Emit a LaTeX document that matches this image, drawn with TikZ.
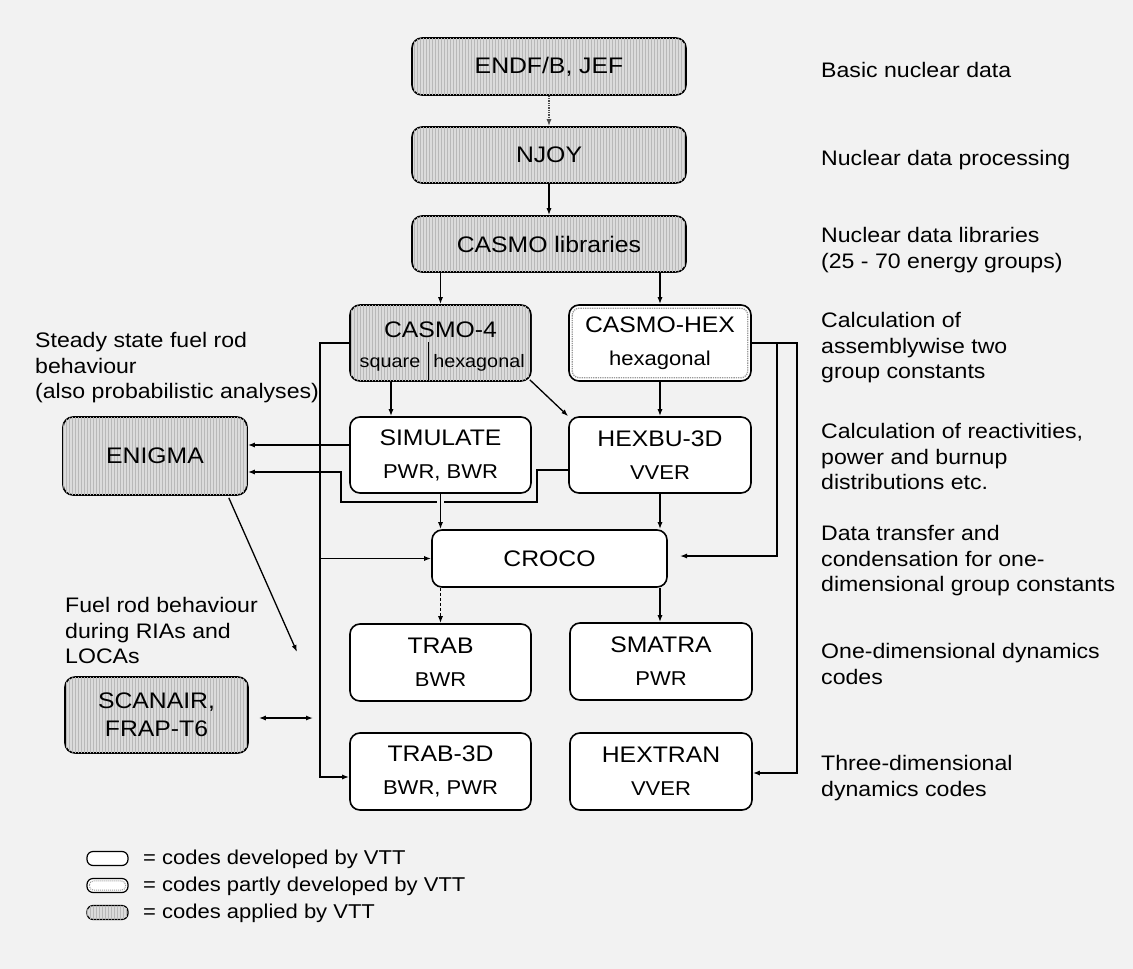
\documentclass[tikz,border=0pt]{standalone}
\usepackage{fontspec}
\setmainfont{Liberation Sans}[FakeStretch=1.1]
\usetikzlibrary{arrows.meta,patterns}
\begin{document}
\begin{tikzpicture}[x=1pt,y=-1pt,
  box/.style={draw=black, line width=1.6pt, rounded corners=10pt, align=center, inner sep=0pt,
    font=\fontsize{22.5}{33}\selectfont},
  applied/.style={box, fill=black!14, postaction={pattern=vertical lines, pattern color=black!28}},
  partly/.style={box, fill=white},
  devel/.style={box, fill=white},
  lbl/.style={anchor=north west, inner sep=0pt, align=left, font=\fontsize{21}{25.7}\selectfont},
  conn/.style={line width=1.3pt},
  arr/.style={conn, -{Latex[length=7pt,width=5pt]}},
  darr/.style={conn, {Latex[length=7pt,width=5pt]}-{Latex[length=7pt,width=5pt]}},
  legb/.style={draw=black, line width=1.2pt, rounded corners=6pt, minimum width=41pt, minimum height=14pt, inner sep=0pt},
  legt/.style={anchor=west, inner sep=0pt, font=\fontsize{20}{24}\selectfont}
]
\fill[black!5] (0,0) rectangle (1133,969);
\useasboundingbox (0,0) rectangle (1133,969);

% main column
\node[applied, minimum width=274pt, minimum height=57pt] (endf) at (549,66.5) {ENDF/B, JEF};
\node[applied, minimum width=274pt, minimum height=56pt] (njoy) at (549,155) {NJOY};
\node[applied, minimum width=274pt, minimum height=56pt] (lib) at (549,244) {CASMO libraries};

\node[applied, minimum width=181pt, minimum height=76pt] (casmo4) at (440.5,343) {};
\node[anchor=base, inner sep=0pt, font=\fontsize{22.5}{33}\selectfont] (c4t) at (440.5,337) {CASMO-4};
\node[anchor=base, inner sep=0pt, font=\fontsize{18}{22}\selectfont] (c4sq) at (390,367) {square};
\node[anchor=base, inner sep=0pt, font=\fontsize{18}{22}\selectfont] (c4hx) at (479,367) {hexagonal};
\draw[line width=0.9pt] (428,342) -- (casmo4.south -| 428,342);

\node[partly, minimum width=182pt, minimum height=76pt] (chex) at (660,343) {CASMO-HEX\\{\fontsize{20}{33}\selectfont hexagonal}};
\draw[black!40, densely dotted, line width=1.3pt, rounded corners=7pt]
  ([xshift=4pt,yshift=-4pt]chex.north west) rectangle ([xshift=-4pt,yshift=4pt]chex.south east);

\node[devel, minimum width=181pt, minimum height=76pt] (sim) at (440.5,455) {SIMULATE\\{\fontsize{20}{33}\selectfont PWR, BWR}};
\node[devel, minimum width=182pt, minimum height=76pt] (hexbu) at (660,455) {HEXBU-3D\\{\fontsize{20}{33}\selectfont VVER}};
\node[devel, minimum width=235pt, minimum height=57pt] (croco) at (549.5,558.5) {CROCO};
\node[devel, minimum width=181pt, minimum height=77pt] (trab) at (440.5,662.5) {TRAB\\{\fontsize{20}{33}\selectfont BWR}};
\node[devel, minimum width=182pt, minimum height=77pt] (smatra) at (661,661.5) {SMATRA\\{\fontsize{20}{33}\selectfont PWR}};
\node[devel, minimum width=181pt, minimum height=77pt] (trab3d) at (440.5,771.5) {TRAB-3D\\{\fontsize{20}{33}\selectfont BWR, PWR}};
\node[devel, minimum width=182pt, minimum height=77pt] (hextran) at (661,771.5) {HEXTRAN\\{\fontsize{20}{33}\selectfont VVER}};

\node[applied, minimum width=184pt, minimum height=78pt] (enigma) at (155,456) {ENIGMA};
\node[applied, minimum width=183pt, minimum height=76pt, font=\fontsize{22.5}{28}\selectfont] (scanair) at (156.5,715) {SCANAIR,\\FRAP-T6};

% connectors
\draw[arr, densely dotted, black!70] (endf) -- (njoy);
\draw[arr] (njoy) -- (lib);
\draw[arr] (lib.south -| casmo4.north) -- (casmo4.north);
\draw[arr] (lib.south -| chex.north) -- (chex.north);
\draw[arr] ([xshift=-49.5pt]casmo4.south) -- ([xshift=-49.5pt]sim.north);
\draw[arr] ([xshift=-2pt,yshift=2pt]casmo4.south east) -- (hexbu.north west);
\draw[arr] (chex) -- (hexbu);

\coordinate (lb) at (320,777);
\draw[arr] (casmo4.west) -| (lb) -- (lb -| trab3d.west);
\draw[arr] (croco.west -| lb) -- (croco.west);

\draw[arr] ([yshift=10pt]sim.west) -- ([yshift=10pt]sim.west -| enigma.east);
\coordinate (h1) at (537,502);
\coordinate (h2) at (341,502);
\draw[arr] ([yshift=-15pt]hexbu.west) -| (h1) -- (h2) |- ([yshift=-16pt]enigma.east);
\draw[arr, preaction={draw=black!5, line width=7pt, -}] (sim.south) -- (sim.south |- croco.north);
\draw[arr] (hexbu.south) -- (hexbu.south |- croco.north);

\coordinate (r1) at (797,773);
\coordinate (r2) at (777,556);
\coordinate (ct) at (680,556);
\draw[arr] (chex.east) -| (r1) -- (r1 -| hextran.east);
\draw[arr] (chex.east -| r2) -- (r2) -- (ct);

\draw[arr, densely dashed] (croco.south -| trab.north) -- (trab.north);
\draw[arr] (hexbu.south |- croco.south) -- (hexbu.south |- smatra.north);

\coordinate (ep) at (297,652);
\draw[arr] ([xshift=-19pt,yshift=-2pt]enigma.south east) -- (ep);
\coordinate (sa) at (313,718);
\draw[darr] ([xshift=10pt]scanair.east |- sa) -- (sa);

% right-hand labels
\node[lbl] (l1) at (821,62) {Basic nuclear data};
\node[lbl] (l2) at (821,150) {Nuclear data processing};
\node[lbl] (l3) at (821,227) {Nuclear data libraries\\(25 - 70 energy groups)};
\node[lbl] (l4) at (821,312) {Calculation of\\assemblywise two\\group constants};
\node[lbl] (l5) at (821,423) {Calculation of reactivities,\\power and burnup\\distributions etc.};
\node[lbl] (l6) at (821,525) {Data transfer and\\condensation for one-\\dimensional group constants};
\node[lbl] (l7) at (821,643) {One-dimensional dynamics\\codes};
\node[lbl] (l8) at (821,755) {Three-dimensional\\dynamics codes};

% left labels
\node[lbl] (l9) at (35,332) {Steady state fuel rod\\behaviour\\(also probabilistic analyses)};
\node[lbl] (l10) at (65,597) {Fuel rod behaviour\\during RIAs and\\LOCAs};

% legend
\node[legb, fill=white] (g1) at (107.5,858.5) {};
\node[legb, fill=white] (g2) at (107.5,885.5) {};
\draw[black!40, densely dotted, line width=1pt, rounded corners=4pt]
  ([xshift=3pt,yshift=-3pt]g2.north west) rectangle ([xshift=-3pt,yshift=3pt]g2.south east);
\node[legb, fill=black!14, postaction={pattern=vertical lines, pattern color=black!28}] (g3) at (107.5,912.5) {};
\node[legt] (t1) at (143,859) {= codes developed by VTT};
\node[legt] (t2) at (143,886) {= codes partly developed by VTT};
\node[legt] (t3) at (143,913) {= codes applied by VTT};
\end{tikzpicture}
\end{document}
